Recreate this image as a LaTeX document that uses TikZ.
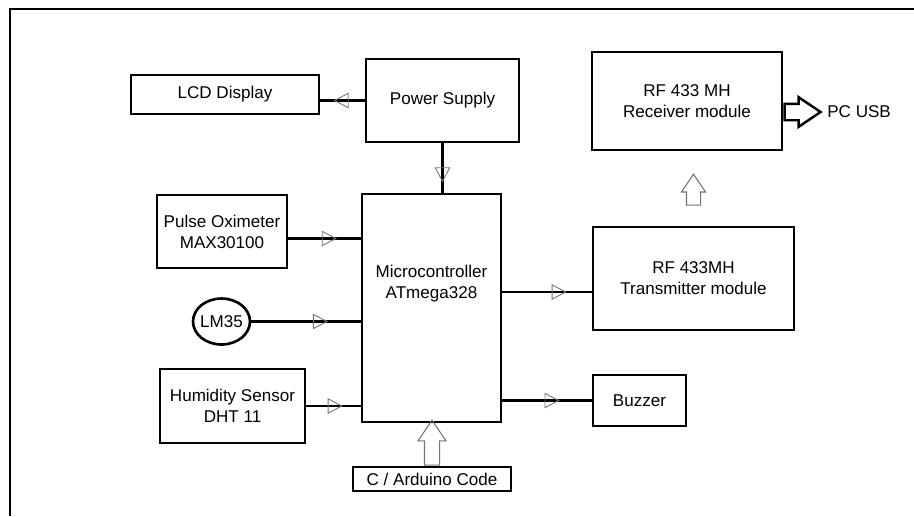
\documentclass[tikz,border=0pt]{standalone}
\usepackage{fontspec}
\setmainfont{Liberation Sans}
\usetikzlibrary{arrows.meta,shapes.geometric,shapes.arrows,decorations.markings}

\begin{document}
\begin{tikzpicture}[
  x=1cm,y=1cm,
  txt/.style={font=\fontsize{9.7}{12}\selectfont, align=center},
  box/.style={txt, draw=black, line width=1.5pt, inner sep=0pt},
  link/.style={line width=1.5pt, postaction={decorate},
    decoration={markings, mark=at position #1 with {\arrow{Triangle[open, length=0.3cm, width=0.31cm, line width=0.5pt, color=black!55]}}}},
  link/.default=0.68,
  hollow/.style={single arrow, draw=black!55, line width=0.6pt, inner xsep=0pt, inner ysep=0.14cm,
    single arrow head extend=0.13cm, single arrow tip angle=68, pos=0, anchor=tail, sloped, allow upside down},
  fat/.style={hollow, draw=black, line width=1.4pt}
]
\useasboundingbox (0,0) rectangle (18.28,-10.32);
\draw[line width=1.5pt] (0.2,-10.32) -- (0.2,-0.18) -- (18.28,-0.18);

\node[box, minimum width=3.76cm, minimum height=0.78cm] (lcd) at (4.50,-1.89) {LCD Display};
\node[box, minimum width=3.06cm, minimum height=1.66cm] (psu) at (8.85,-2.01) {Power Supply};
\node[box, minimum width=2.78cm, minimum height=4.56cm] (mcu) at (8.63,-6.16) {};
\node[txt] (mcutext) at ([yshift=0.48cm]mcu) {Microcontroller\\ATmega328};
\node[box, minimum width=2.60cm, minimum height=1.46cm] (pulse) at (4.44,-4.63) {Pulse Oximeter\\MAX30100};
\node[box, ellipse, minimum width=1.14cm, minimum height=0.92cm] (lm35) at (4.43,-6.43) {\makebox[0pt]{LM35}};
\node[box, minimum width=2.90cm, minimum height=1.48cm] (hum) at (4.65,-8.12) {Humidity Sensor\\DHT 11};
\node[box, minimum width=3.16cm, minimum height=0.48cm] (code) at (8.64,-9.58) {C / Arduino Code};
\node[box, minimum width=4.02cm, minimum height=2.06cm] (tx) at (13.87,-5.57) {RF 433MH\\Transmitter module};
\node[box, minimum width=1.86cm, minimum height=1.02cm] (buzzer) at (12.79,-8.01) {Buzzer};
\node[box, minimum width=3.80cm, minimum height=1.96cm] (rx) at (13.74,-2.02) {RF 433 MH\\Receiver module};
\node[txt, anchor=west, inner sep=0.18cm] (pc) at (16.36,-2.24) {PC USB};

\draw[link=0.70] (psu.west) -- (psu.west -| lcd.east);
\draw[link=0.79] (psu.south) -- (psu.south |- mcu.north);
\draw[link=0.67] ([yshift=-0.14cm]pulse.east) -- ([yshift=-0.14cm]pulse.east -| mcu.west);
\draw[link=0.70] (lm35.east) -- (lm35.east -| mcu.west);
\draw[link=0.67] (hum.east) -- (hum.east -| mcu.west);
\draw[link=0.72] ([yshift=-0.27cm]tx.west -| mcu.east) -- ([yshift=-0.27cm]tx.west);
\draw[link=0.64] (buzzer.west -| mcu.east) -- (buzzer.west);
\path (code.north) -- (code.north |- mcu.south) node[hollow, minimum height=0.9cm] (codearrow) {};
\path ([yshift=0.4cm]tx.north) -- (tx.north |- rx.south) node[hollow, inner ysep=0.13cm, single arrow head extend=0.1cm, minimum height=0.62cm] (rfarrow) {};
\path (rx.east |- pc.west) -- (pc.west) node[fat, minimum height=0.72cm] (usbarrow) {};
\end{tikzpicture}
\end{document}
